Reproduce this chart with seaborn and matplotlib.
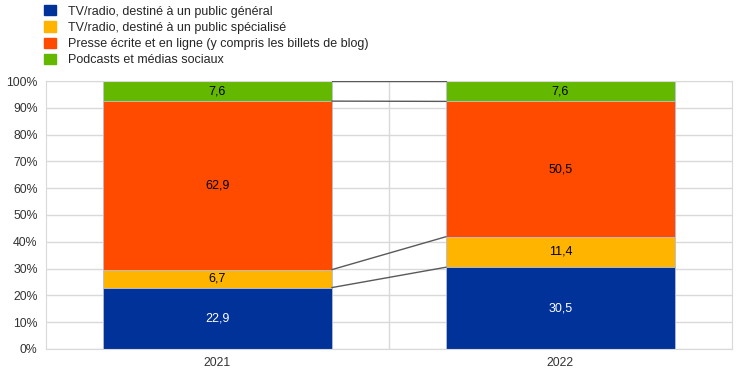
import numpy as np
import pandas as pd
import matplotlib
matplotlib.use('Agg')
import matplotlib.pyplot as plt
import matplotlib.patches as mpatches
import seaborn as sns

years = ['2021', '2022']
series = ['TV/radio, destiné à un public général',
          'TV/radio, destiné à un public spécialisé',
          'Presse écrite et en ligne (y compris les billets de blog)',
          'Podcasts et médias sociaux']
tv_general = [22.9, 30.5]
tv_special = [6.7, 11.4]
presse = [62.9, 50.5]
podcasts = [7.6, 7.6]
colors = ['#003299', '#FFB400', '#FF4B00', '#65B800']
label_colors = ['white', 'black', 'black', 'black']
yticks = np.arange(0, 101, 10)

vals = np.array([tv_general, tv_special, presse, podcasts])
tops = np.cumsum(vals, axis=0)
tops[-1] = [100, 100]
bottoms = tops - vals

sns.set_style('white')
plt.rcParams['font.family'] = ['Liberation Sans', 'DejaVu Sans']

fig = plt.figure(figsize=(7.42, 3.76), dpi=100)
ax = fig.add_axes([0.062, 0.072, 0.9245, 0.7125])

w = 0.667
for i in range(len(series) - 1, -1, -1):
    df = pd.DataFrame({'year': years, 'top': tops[i]})
    sns.barplot(data=df, x='year', y='top', color=colors[i], width=w,
                saturation=1, ax=ax, zorder=2, edgecolor='#b8c4de', linewidth=0.6)

# connecting lines between bars
for i in range(len(series)):
    ax.plot([w / 2, 1 - w / 2], [tops[i][0], tops[i][1]], color='#595959', lw=1, zorder=3)

for i in range(len(series)):
    for j in range(len(years)):
        ax.text(j, bottoms[i][j] + vals[i][j] / 2, f'{vals[i][j]:.1f}'.replace('.', ','),
                ha='center', va='center', fontsize=9, color=label_colors[i], zorder=4)

ax.set_xlim(-0.5, 1.5)
ax.set_ylim(0, 100)
ax.set_yticks(yticks)
ax.set_yticklabels([f'{t}%' for t in yticks])
ax.set_xlabel('')
ax.set_ylabel('')
ax.yaxis.grid(True, color='#d9d9d9', lw=1, zorder=0)
ax.axvline(0.5, color='#d9d9d9', lw=1, zorder=0)
for s in ax.spines.values():
    s.set_color('#d9d9d9')
ax.tick_params(axis='both', length=0, labelsize=8.8, colors='#333333', pad=6)

handles = [mpatches.Patch(color=c, label=l) for c, l in zip(colors, series)]
fig.legend(handles=handles, loc='upper left', bbox_to_anchor=(0.053, 1.0), frameon=False,
           fontsize=9, handlelength=0.9, handleheight=0.9, handletextpad=1.0, labelspacing=0.3,
           borderaxespad=0)

fig.savefig('out.png', dpi=100)
